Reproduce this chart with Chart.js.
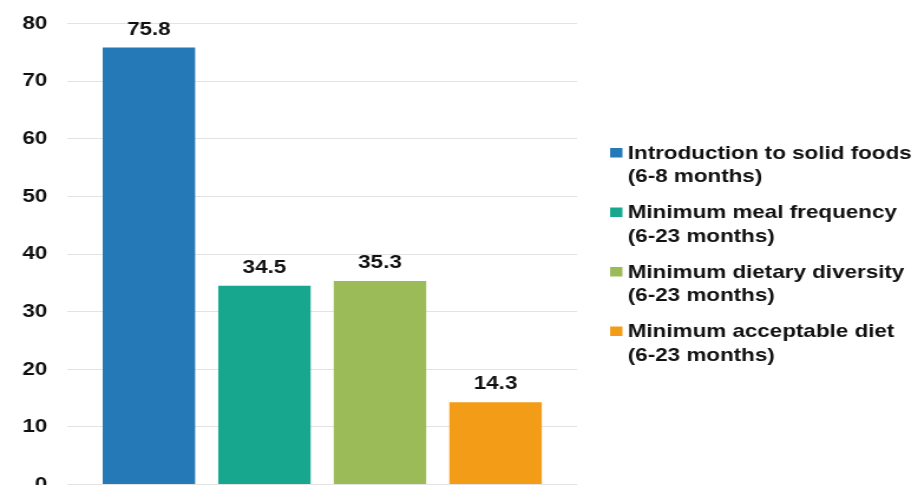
<!DOCTYPE html>
<html>
<head>
<meta charset="utf-8">
<script src="https://cdn.jsdelivr.net/npm/chart.js@4"></script>
<style>
  html, body { margin: 0; padding: 0; background: #fff; overflow: hidden; }
  /* the source picture is stretched sideways, so the chart is drawn narrow and scaled */
  #wrap { width: 774px; height: 518px; margin-top: -5px; transform: scaleX(1.18); transform-origin: 0 0; }
</style>
</head>
<body>
<div id="wrap"><canvas id="chart"></canvas></div>
<script>
  const seriesNames = [
    ['Introduction to solid foods', '(6-8 months)'],
    ['Minimum meal frequency', '(6-23 months)'],
    ['Minimum dietary diversity', '(6-23 months)'],
    ['Minimum acceptable diet', '(6-23 months)']
  ];
  const seriesValues = [75.8, 34.5, 35.3, 14.3];
  const seriesColors = ['#2479b6', '#17a78f', '#9bbb59', '#f39c18'];
  const yTicks = [0, 10, 20, 30, 40, 50, 60, 70, 80];

  const fontFamily = '"Liberation Sans", Arial, sans-serif';
  const boldFont = 'bold 19px ' + fontFamily;

  /* ── value labels above each bar ── */
  const valueLabels = {
    id: 'valueLabels',
    afterDatasetsDraw(chart) {
      const ctx = chart.ctx;
      ctx.save();
      ctx.font = boldFont;
      ctx.fillStyle = '#111';
      ctx.textAlign = 'center';
      ctx.textBaseline = 'alphabetic';
      chart.data.datasets.forEach((ds, i) => {
        const bar = chart.getDatasetMeta(i).data[0];
        ctx.fillText(ds.data[0].toFixed(1), bar.x, bar.y - 13);
      });
      ctx.restore();
    }
  };

  /* ── two-line legend on the right (built-in legend is capped too narrow) ── */
  const sideLegend = {
    id: 'sideLegend',
    afterDraw(chart) {
      const ctx = chart.ctx;
      const boxX = chart.chartArea.right + 28;
      const textX = boxX + 15;
      let baseline = 163.5; // canvas sits 5px higher than the page
      ctx.save();
      ctx.font = boldFont;
      ctx.textAlign = 'left';
      ctx.textBaseline = 'alphabetic';
      chart.data.datasets.forEach((ds) => {
        ctx.fillStyle = ds.backgroundColor;
        ctx.fillRect(boxX, baseline - 10.5, 10.5, 9.5);
        ctx.fillStyle = '#111';
        ds.label.forEach((line, j) => ctx.fillText(line, textX, baseline + j * 23.5));
        baseline += 59.5;
      });
      ctx.restore();
    }
  };

  new Chart(document.getElementById('chart'), {
    type: 'bar',
    data: {
      labels: [''],
      datasets: seriesNames.map((name, i) => ({
        label: name,
        data: [seriesValues[i]],
        backgroundColor: seriesColors[i],
        borderWidth: 0,
        barPercentage: 0.8,
        categoryPercentage: 0.907
      }))
    },
    options: {
      responsive: true,
      maintainAspectRatio: false,
      animation: false,
      layout: { padding: { left: 2, top: 7, right: 285, bottom: 0 } },
      plugins: {
        legend: { display: false },
        tooltip: { enabled: false }
      },
      scales: {
        x: { display: false },
        y: {
          min: 0,
          max: 80,
          afterBuildTicks: (scale) => { scale.ticks = yTicks.map((v) => ({ value: v })); },
          ticks: {
            color: '#111',
            padding: 17,
            font: { family: fontFamily, size: 19, weight: 'bold' }
          },
          grid: { color: '#e3e3e3', drawTicks: false },
          border: { display: false }
        }
      }
    },
    plugins: [valueLabels, sideLegend]
  });
</script>
</body>
</html>
